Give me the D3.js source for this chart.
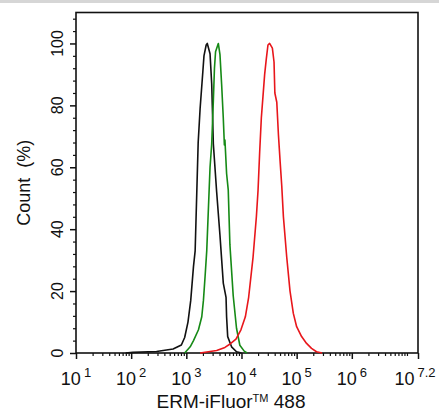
<!DOCTYPE html>
<html>
<head>
<meta charset="utf-8">
<script src="https://cdn.jsdelivr.net/npm/d3@7"></script>
<style>
  body { margin: 0; background: #fff; }
  text { font-family: "Liberation Sans", Arial, sans-serif; fill: #111; }
</style>
</head>
<body>
<script>
// curves: x = log10(intensity), y = count (%)
var blackLog = [1.9, 2.03, 2.46, 2.76, 2.91, 2.97, 3.03, 3.08, 3.13, 3.16, 3.215, 3.25, 3.30, 3.32, 3.36, 3.38,
                3.43, 3.46, 3.49, 3.55, 3.61, 3.67, 3.72, 3.73, 3.75, 3.82, 3.91, 4.0];
var blackPct = [0, 0.2, 0.5, 1.3, 2.6, 5, 10, 17, 28, 33, 68, 79, 91, 96, 99.5, 100,
                96.7, 87, 67.5, 52, 38, 22.6, 18, 11.7, 5.3, 2, 0.4, 0];

var greenLog = [2.97, 3.07, 3.13, 3.22, 3.28, 3.31, 3.34, 3.37, 3.43, 3.46, 3.49, 3.51, 3.53, 3.58,
                3.61, 3.64, 3.67, 3.69, 3.70, 3.73, 3.76, 3.79, 3.85, 3.91, 3.97, 4.05, 4.1];
var greenPct = [0, 2, 4, 7.5, 11.7, 17, 24.7, 33, 60, 67.5, 81.6, 92, 97.3, 100,
                96.4, 86.8, 75.9, 67.2, 68.8, 58, 52.7, 35, 18.5, 8, 2.5, 0.6, 0];

var redLog = [3.25, 3.55, 3.70, 3.80, 3.90, 3.99, 4.07, 4.13, 4.21, 4.27, 4.30, 4.33, 4.36, 4.39, 4.42, 4.45, 4.48, 4.51,
              4.56, 4.59, 4.605, 4.64, 4.67, 4.70, 4.73, 4.76, 4.82, 4.88, 4.94, 5.00, 5.09, 5.18, 5.27, 5.36, 5.46];
var redPct = [0, 0.8, 1.8, 3, 4.5, 7.5, 11.7, 18, 31, 44, 52.5, 65, 76, 83, 90, 95, 99.5, 100,
              98.5, 94, 84, 81, 70.4, 62, 54, 44, 31, 20, 12.8, 8.5, 5.3, 3.1, 1.5, 0.4, 0];

var xMajorExp = ["1", "2", "3", "4", "5", "6", "7.2"];
var yMajor = [0, 20, 40, 60, 80, 100];

var W = 439, H = 412;
var pLeft = 76, pRight = 418, pTop = 12.5, pBottom = 353;

var svg = d3.select("body").append("svg")
    .attr("width", W)
    .attr("height", H);

// grey strip at the very top
svg.append("rect").attr("x", 0).attr("y", 0).attr("width", W).attr("height", 3).attr("fill", "#d6d6d6");

var x = d3.scaleLog().domain([10, Math.pow(10, 7.2)]).range([pLeft, pRight]);
var y = d3.scaleLinear().domain([0, 110]).range([pBottom, pTop]);

// minor log ticks
var xMinor = [];
for (var k = 1; k <= 7; k++) {
  for (var m = 1; m <= 9; m++) {
    var v = m * Math.pow(10, k);
    if (v <= Math.pow(10, 7.2) && !(m == 1 && k < 7)) xMinor.push(v);
  }
}
var xMajor = xMajorExp.map(function(e) { return Math.pow(10, +e); });

svg.append("g")
    .attr("transform", "translate(0," + pBottom + ")")
    .call(d3.axisBottom(x).tickValues(xMinor).tickSize(3).tickFormat(""))
    .call(function(g) { g.select(".domain").remove(); })
    .selectAll("line").attr("stroke", "#111").attr("stroke-width", 1.2);

svg.append("g")
    .attr("transform", "translate(0," + pBottom + ")")
    .call(d3.axisBottom(x).tickValues(xMajor).tickSize(6).tickFormat(""))
    .call(function(g) { g.select(".domain").remove(); })
    .selectAll("line").attr("stroke", "#111").attr("stroke-width", 1.5);

var yMinor = d3.range(0, 110, 4).filter(function(d) { return yMajor.indexOf(d) < 0; });

svg.append("g")
    .attr("transform", "translate(" + pLeft + ",0)")
    .call(d3.axisLeft(y).tickValues(yMinor).tickSize(3).tickFormat(""))
    .call(function(g) { g.select(".domain").remove(); })
    .selectAll("line").attr("stroke", "#111").attr("stroke-width", 1.2);

svg.append("g")
    .attr("transform", "translate(" + pLeft + ",0)")
    .call(d3.axisLeft(y).tickValues(yMajor).tickSize(6).tickFormat(""))
    .call(function(g) { g.select(".domain").remove(); })
    .selectAll("line").attr("stroke", "#111").attr("stroke-width", 1.5);

// frame
svg.append("rect")
    .attr("x", pLeft).attr("y", pTop)
    .attr("width", pRight - pLeft).attr("height", pBottom - pTop)
    .attr("fill", "none").attr("stroke", "#111").attr("stroke-width", 1.6);

// y tick labels, rotated
svg.selectAll("text.ylab")
    .data(yMajor)
  .enter().append("text")
    .attr("class", "ylab")
    .attr("transform", function(d) { return "translate(63," + y(d) + ") rotate(-90)"; })
    .attr("text-anchor", "middle")
    .style("font-size", "16px")
    .text(function(d) { return d; });

// x tick labels 10^n
var xl = svg.selectAll("text.xlab")
    .data(xMajorExp)
  .enter().append("text")
    .attr("class", "xlab")
    .attr("x", function(d, i) { return x(Math.pow(10, +d)) + (i == xMajorExp.length - 1 ? -3 : 0); })
    .attr("y", 385)
    .attr("text-anchor", "middle")
    .style("font-size", "18px");
xl.append("tspan").text("10");
xl.append("tspan")
    .attr("dx", 3).attr("dy", -8)
    .style("font-size", "13px")
    .text(function(d) { return d; });

// axis titles
var xt = svg.append("text")
    .attr("x", 231).attr("y", 408)
    .attr("text-anchor", "middle")
    .style("font-size", "19px");
xt.append("tspan").text("ERM-iFluor");
xt.append("tspan").attr("dy", -6).style("font-size", "11px").text("TM");
xt.append("tspan").attr("dy", 6).text(" 488");

svg.append("text")
    .attr("transform", "translate(30," + ((pTop + pBottom) / 2) + ") rotate(-90)")
    .attr("text-anchor", "middle")
    .style("font-size", "18px")
    .style("white-space", "pre")
    .text("Count  (%)");

// histograms
var line = d3.line()
    .x(function(d) { return x(Math.pow(10, d[0])); })
    .y(function(d) { return y(d[1]); });

var series = [
  {lg: blackLog, pc: blackPct, color: "#111111"},
  {lg: greenLog, pc: greenPct, color: "#168a16"},
  {lg: redLog, pc: redPct, color: "#e8161b"}
];

svg.selectAll("path.curve")
    .data(series)
  .enter().append("path")
    .attr("class", "curve")
    .attr("d", function(s) { return line(d3.zip(s.lg, s.pc)); })
    .attr("fill", "none")
    .attr("stroke", function(s) { return s.color; })
    .attr("stroke-width", 1.6)
    .attr("stroke-linejoin", "round");
</script>
</body>
</html>
